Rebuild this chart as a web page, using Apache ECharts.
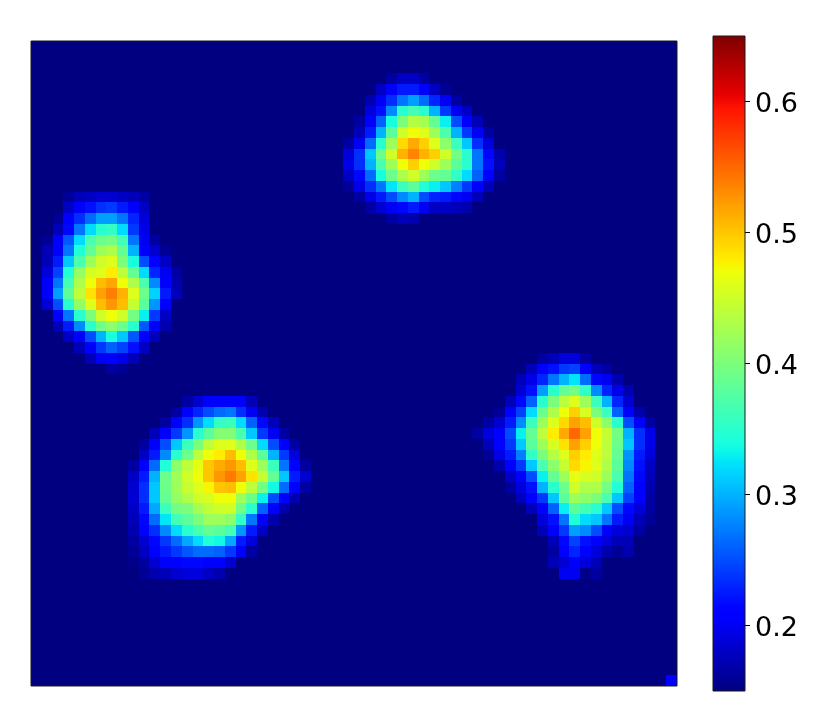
<!DOCTYPE html>
<html><head><meta charset="utf-8">
<style>html,body{margin:0;padding:0;background:#fff}#c{width:830px;height:727px}</style>
<script src="https://cdn.jsdelivr.net/npm/echarts@6/dist/echarts.min.js"></script>
</head><body><div id="c"></div>
<script>
const gridSize = 60;
const background = 0.15;
const colorMin = 0.15, colorMax = 0.65;
const colorbarTicks = [0.2,0.3,0.4,0.5,0.6];
// each row: [row, first column, values...]
const blobLeft = [
[14,3,.16,.175,.18,.185,.185,.18,.175,.165],
[15,3,.18,.205,.22,.235,.24,.225,.21,.18],
[16,2,.16,.205,.235,.265,.29,.29,.27,.23,.19],
[17,2,.175,.215,.27,.32,.35,.355,.32,.24,.195],
[18,1,.16,.205,.255,.32,.37,.39,.395,.365,.27,.20,.165],
[19,1,.175,.205,.27,.345,.385,.42,.43,.385,.30,.21,.185,.16],
[20,1,.175,.225,.31,.37,.42,.45,.46,.40,.34,.25,.205,.18],
[21,1,.19,.245,.345,.415,.455,.46,.48,.44,.385,.32,.23,.20,.165],
[22,1,.205,.27,.365,.43,.47,.505,.517,.47,.43,.37,.28,.21,.17],
[23,1,.205,.29,.38,.44,.485,.52,.537,.51,.46,.39,.315,.225,.175],
[24,1,.185,.25,.35,.415,.46,.505,.525,.505,.445,.38,.285,.205],
[25,2,.21,.27,.35,.40,.45,.47,.45,.395,.33,.24,.18],
[26,2,.175,.225,.28,.35,.39,.41,.39,.35,.255,.205,.17],
[27,3,.18,.21,.25,.30,.34,.31,.255,.205,.175],
[28,4,.175,.21,.24,.26,.245,.22,.18],
[29,5,.175,.20,.205,.195,.175],
[30,7,.165,.16]
];
const blobTop = [
[3,33,.165,.18,.18,.165],
[4,32,.18,.205,.225,.225,.21,.18,.16],
[5,31,.17,.20,.235,.27,.29,.265,.23,.20,.165],
[6,31,.19,.22,.28,.35,.365,.35,.30,.24,.20,.18],
[7,30,.165,.205,.26,.34,.40,.435,.425,.385,.33,.25,.205,.175],
[8,30,.175,.225,.30,.38,.45,.47,.46,.42,.37,.30,.24,.20,.165],
[9,29,.165,.20,.265,.35,.42,.49,.515,.495,.46,.41,.36,.31,.235,.19],
[10,29,.19,.235,.31,.39,.45,.51,.535,.51,.495,.45,.395,.35,.27,.215,.17],
[11,29,.195,.235,.30,.37,.42,.47,.495,.47,.45,.42,.38,.35,.27,.22,.175],
[12,29,.18,.215,.265,.34,.39,.43,.45,.42,.39,.385,.355,.32,.26,.205,.165],
[13,29,.16,.195,.235,.27,.325,.36,.38,.345,.33,.31,.275,.24,.205,.175],
[14,30,.165,.195,.225,.25,.28,.30,.25,.23,.225,.215,.20,.175],
[15,31,.165,.185,.20,.215,.225,.20,.18,.18,.175,.17],
[16,33,.165,.175,.17]
];
const blobLower = [
[33,14,.165,.185,.205,.205,.205,.205,.175],
[34,13,.165,.205,.23,.25,.265,.27,.235,.20,.17],
[35,12,.165,.205,.235,.285,.32,.355,.36,.32,.26,.215,.175],
[36,11,.175,.205,.24,.285,.35,.38,.405,.405,.37,.31,.24,.20,.165],
[37,10,.165,.205,.25,.31,.36,.40,.44,.46,.46,.43,.39,.32,.25,.205,.165],
[38,10,.18,.225,.28,.35,.39,.44,.47,.48,.505,.47,.43,.38,.30,.24,.19],
[39,9,.165,.205,.265,.345,.41,.44,.465,.50,.515,.525,.505,.46,.42,.36,.27,.205,.165],
[40,9,.18,.225,.30,.39,.42,.45,.47,.50,.525,.54,.52,.485,.445,.385,.31,.225,.185],
[41,9,.185,.235,.31,.39,.42,.445,.46,.475,.50,.505,.47,.44,.395,.335,.265,.205,.165],
[42,9,.185,.235,.31,.385,.415,.43,.45,.455,.47,.47,.42,.39,.33,.25,.205,.17],
[43,9,.18,.225,.295,.36,.395,.40,.425,.44,.45,.45,.395,.35,.26,.205,.17],
[44,9,.175,.215,.265,.325,.365,.38,.40,.42,.42,.41,.355,.27,.21,.17],
[45,9,.17,.205,.235,.28,.32,.35,.37,.385,.38,.365,.285,.225,.18],
[46,9,.165,.185,.215,.24,.265,.295,.32,.345,.335,.295,.225,.19],
[47,9,.16,.18,.205,.225,.24,.255,.265,.265,.26,.24,.205,.165],
[48,9,.155,.165,.185,.205,.21,.215,.215,.21,.205,.185],
[49,10,.16,.17,.175,.185,.19,.19,.18,.17]
];
const blobRight = [
[29,47,.165,.175,.19,.19,.165],
[30,46,.175,.205,.22,.24,.245,.205,.175,.165],
[31,45,.175,.195,.23,.27,.30,.325,.265,.215,.20,.17],
[32,45,.185,.22,.29,.35,.385,.395,.355,.28,.23,.195,.17],
[33,44,.175,.215,.26,.35,.40,.44,.46,.42,.36,.30,.23,.185],
[34,43,.16,.205,.245,.32,.39,.43,.47,.495,.455,.40,.36,.26,.205,.17],
[35,42,.165,.185,.225,.28,.36,.42,.46,.49,.52,.505,.45,.41,.35,.25,.205,.165],
[36,41,.165,.19,.205,.25,.33,.385,.44,.48,.515,.55,.52,.47,.445,.395,.30,.235,.195],
[37,42,.175,.205,.24,.31,.38,.42,.455,.485,.52,.495,.47,.44,.39,.31,.235,.195],
[38,42,.16,.195,.225,.275,.355,.40,.435,.46,.495,.48,.46,.44,.385,.285,.225,.19],
[39,43,.17,.205,.24,.31,.37,.41,.445,.49,.475,.46,.43,.38,.28,.22,.18],
[40,44,.18,.205,.25,.33,.385,.42,.465,.455,.45,.42,.37,.27,.215,.175],
[41,44,.165,.19,.22,.30,.35,.39,.45,.43,.43,.395,.345,.26,.205,.17],
[42,45,.175,.205,.24,.31,.38,.42,.41,.40,.37,.31,.245,.205,.165],
[43,46,.175,.21,.26,.33,.38,.365,.35,.31,.25,.215,.19,.165],
[44,47,.19,.22,.27,.345,.32,.31,.27,.225,.20,.175,.16],
[45,47,.175,.205,.24,.29,.28,.25,.205,.19,.185,.165],
[46,48,.175,.215,.245,.22,.205,.19,.175,.175],
[47,48,.165,.205,.23,.21,.19,.17,.16,.17],
[48,48,.175,.185,.205,.19,.175],
[49,49,.20,.20,.155,.165]
];
const cornerCell = [[59,59,.205]];

function jet(t){
  const c=(v)=>Math.round(255*Math.max(0,Math.min(1,v)));
  let r=t<.35?0:t<.66?(t-.35)/.31:t<.89?1:1-.5*(t-.89)/.11;
  let g=t<.125?0:t<.375?(t-.125)/.25:t<.64?1:1-(t-.64)/.27;
  let b=t<.11?.5+.5*t/.11:t<.34?1:1-(t-.34)/.31;
  return 'rgb('+c(r)+','+c(g)+','+c(b)+')';
}
const jetColors=[];for(let i=0;i<=100;i++)jetColors.push(jet(i/100));

const cells={};
for(const blob of [blobLeft,blobTop,blobLower,blobRight,cornerCell]){
  for(const rowData of blob){
    const row=rowData[0],col=rowData[1];
    rowData.slice(2).forEach((v,i)=>{cells[(col+i)+','+row]=v;});
  }
}
const heat=[];
for(let r=0;r<gridSize;r++)for(let c=0;c<gridSize;c++){
  const k=c+','+r;heat.push([c,r,k in cells?cells[k]:background]);
}
const idx=Array.from({length:gridSize},(_,i)=>i);
const snap=(v)=>Math.round(v+1e-4);
const chart=echarts.init(document.getElementById('c'),null,{renderer:'canvas'});
chart.setOption({
  animation:false,
  backgroundColor:'#fff',
  grid:[
    {left:31,top:41,width:646,height:645,show:true,borderColor:'#1a1a1a',borderWidth:1,backgroundColor:'transparent',z:5},
    {left:713,top:36,width:32,height:655,show:true,borderColor:'#1a1a1a',borderWidth:1,backgroundColor:'transparent',z:5}
  ],
  xAxis:[
    {type:'category',data:idx,gridIndex:0,show:false},
    {type:'category',data:['colorbar'],gridIndex:1,show:false}
  ],
  yAxis:[
    {type:'category',data:idx,gridIndex:0,inverse:true,show:false},
    {type:'value',gridIndex:1,min:colorMin,max:colorMax,position:'right',
     splitLine:{show:false},
     axisLine:{show:false},
     axisTick:{show:true,length:5,inside:false,lineStyle:{color:'#000',width:1},customValues:colorbarTicks},
     axisLabel:{show:true,margin:10,color:'#000',
       customValues:colorbarTicks,formatter:(v)=>'{t|'+v.toFixed(1)+'}',
       rich:{t:{fontFamily:'DejaVu Sans',fontSize:27,color:'#000',padding:[6,0,0,0]}}}}
  ],
  visualMap:{show:false,min:colorMin,max:colorMax,seriesIndex:0,dimension:2,inRange:{color:jetColors}},
  series:[
    {type:'custom',xAxisIndex:0,yAxisIndex:0,data:heat,encode:{x:0,y:1},silent:true,clip:true,
     renderItem:(params,api)=>{
       const p=api.coord([api.value(0),api.value(1)]);
       const s=api.size([1,1]);
       const x0=snap(p[0]-s[0]/2),x1=snap(p[0]+s[0]/2);
       const y0=snap(p[1]-s[1]/2),y1=snap(p[1]+s[1]/2);
       return {type:'rect',shape:{x:x0,y:y0,width:x1-x0,height:y1-y0},style:{fill:api.visual('color')}};
     }},
    {type:'bar',xAxisIndex:1,yAxisIndex:1,barWidth:'100%',data:[colorMax],silent:true,
     itemStyle:{color:new echarts.graphic.LinearGradient(0,1,0,0,jetColors.map((c,i)=>({offset:i/100,color:c})))}}
  ]
});
</script></body></html>
